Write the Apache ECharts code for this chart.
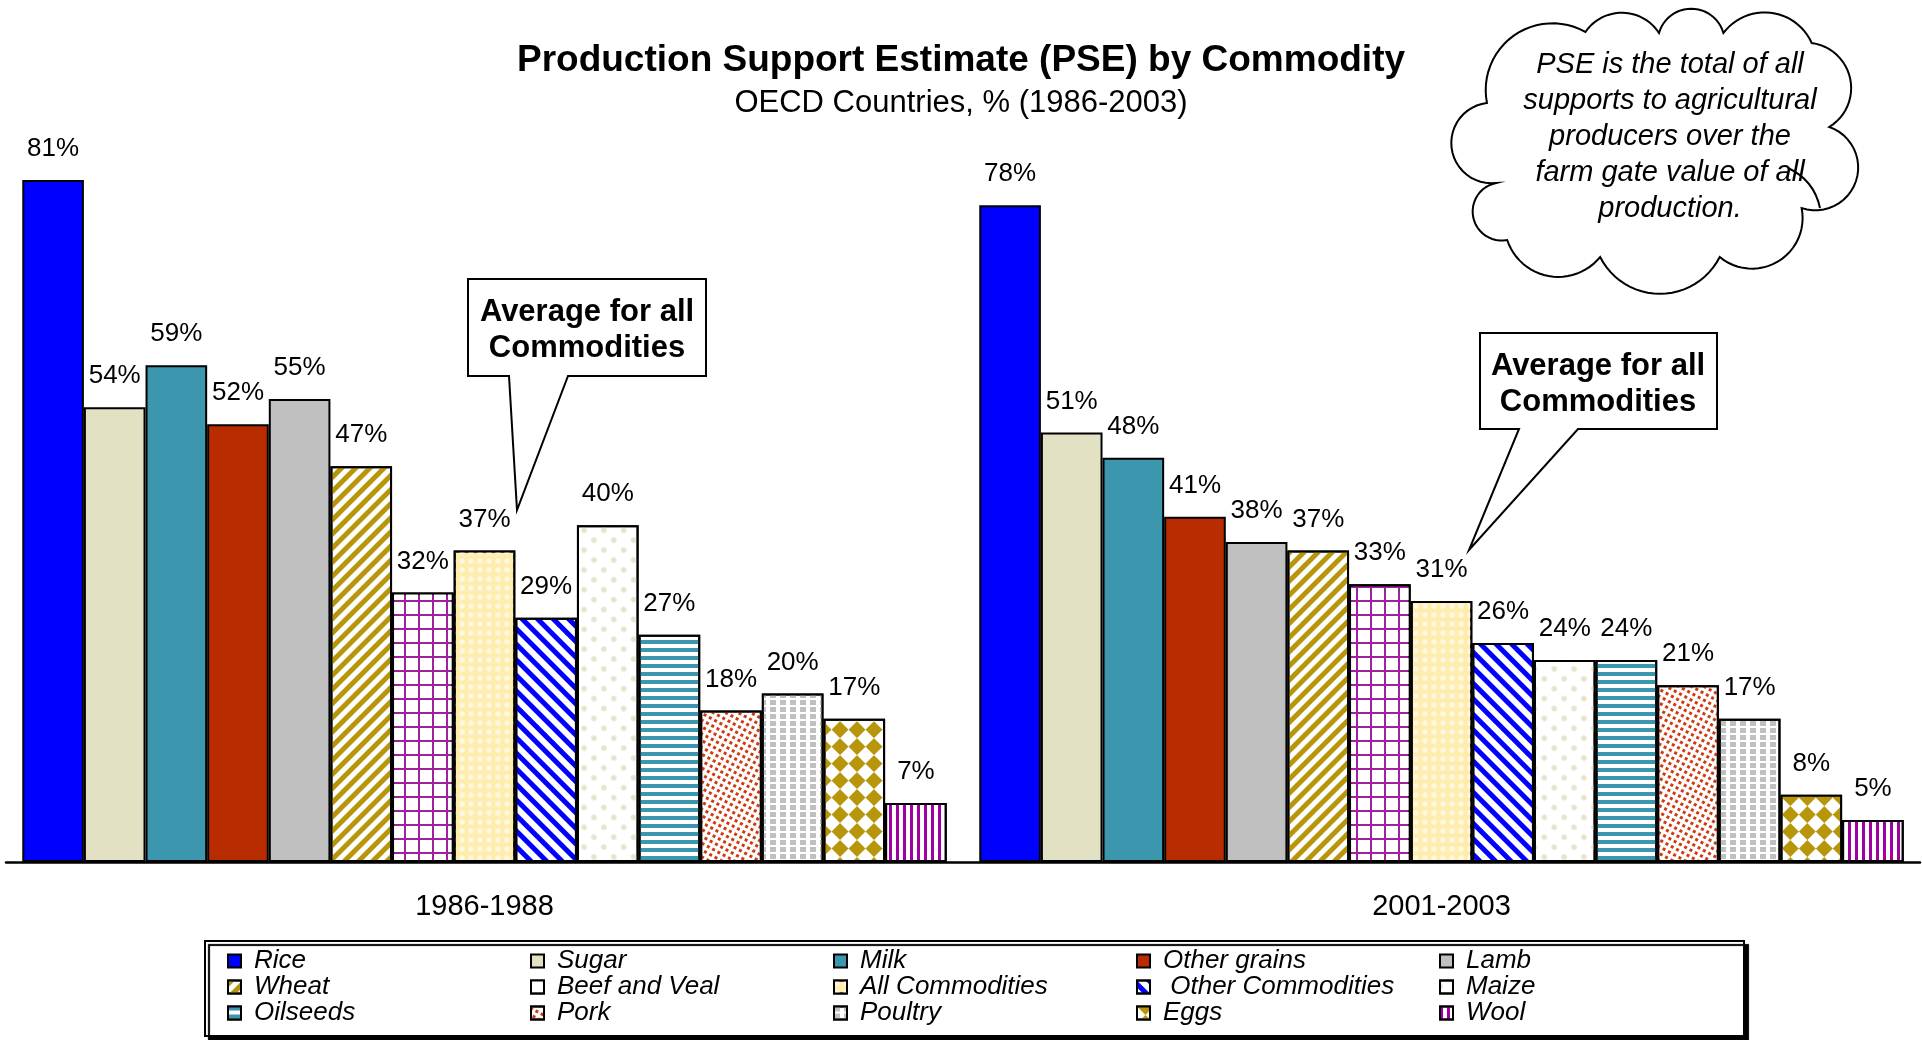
<!DOCTYPE html>
<html>
<head>
<meta charset="utf-8">
<title>PSE by Commodity</title>
<script src="https://cdn.jsdelivr.net/npm/echarts/dist/echarts.min.js"></script>
<style>
  html, body { margin: 0; padding: 0; background: #fff; }
  #chart { width: 1922px; height: 1040px; }
</style>
</head>
<body>
<div id="chart"></div>
<script>
// data
const periods = ['1986-1988', '2001-2003'];
const commodities = ['Rice', 'Sugar', 'Milk', 'Other grains', 'Lamb',
  'Wheat', 'Beef and Veal', 'All Commodities', 'Other Commodities', 'Maize',
  'Oilseeds', 'Pork', 'Poultry', 'Eggs', 'Wool'];
const pse8688 = [81, 54, 59, 52, 55, 47, 32, 37, 29, 40, 27, 18, 20, 17, 7];
const pse0103 = [78, 51, 48, 41, 38, 37, 33, 31, 26, 24, 24, 21, 17, 8, 5];

const FONT = '"Liberation Sans", Arial, sans-serif';

// fill + pattern for each commodity, same order as above
const looks = [
  { color: '#0000FF' },
  { color: '#E3E1C3' },
  { color: '#3C96AE' },
  { color: '#B82C00' },
  { color: '#C0C0C0' },
  { color: '#fff', decal: { symbol: 'rect', color: '#B8960C', dashArrayX: [1, 0], dashArrayY: [5, 5], rotation: -Math.PI / 4 } },
  { color: '#A0209E', decal: { symbol: 'rect', color: '#fff', dashArrayX: [12, 2], dashArrayY: [12, 2] } },
  { color: '#FFEDB0', decal: { symbol: 'circle', color: '#FFF8DE', dashArrayX: [6, 3], dashArrayY: [6, 3], symbolSize: 0.9 } },
  { color: '#fff', decal: { symbol: 'rect', color: '#0000FF', dashArrayX: [1, 0], dashArrayY: [5, 6], rotation: Math.PI / 4 } },
  { color: '#fff', decal: { symbol: 'circle', color: '#E6E4CC', dashArrayX: [8, 6], dashArrayY: [8, 6], symbolSize: 0.7, rotation: Math.PI / 4 } },
  { color: '#fff', decal: { symbol: 'rect', color: '#3C96AE', dashArrayX: [1, 0], dashArrayY: [4, 4] } },
  { color: '#fff', decal: { symbol: 'rect', color: '#D0380E', dashArrayX: [3, 2.5], dashArrayY: [3, 2.5], rotation: 0.5 } },
  { color: '#fff', decal: { symbol: 'rect', color: '#C0C0C0', dashArrayX: [6, 4], dashArrayY: [5, 2] } },
  { color: '#fff', decal: { symbol: 'rect', color: '#B8960C', dashArrayX: [[12, 12], [0, 12, 12, 0]], dashArrayY: [12, 0], rotation: Math.PI / 4 } },
  { color: '#fff', decal: { symbol: 'rect', color: '#A000A0', dashArrayX: [3, 4], dashArrayY: [1, 0] } }
];

const series = commodities.map((name, i) => {
  const itemStyle = { color: looks[i].color, borderColor: '#000', borderWidth: 2 };
  if (looks[i].decal) itemStyle.decal = looks[i].decal;
  return {
    name: name,
    type: 'bar',
    barGap: '0%',
    barCategoryGap: '3.4%',
    data: [pse8688[i], pse0103[i]],
    itemStyle: itemStyle,
    label: {
      show: true, position: 'top', distance: 18, formatter: '{c}%',
      fontSize: 26, color: '#000', fontFamily: FONT
    },
    emphasis: { disabled: true }
  };
});

// cloud outline: lobes are arcs between these points, sampled into a polygon
const cloudPts = [[1500, 183], [1490, 103], [1597, 32], [1677, 33], [1747, 33], [1843, 43],
  [1862, 127], [1832, 208], [1743, 257], [1613, 257], [1512, 240]]
  .map(p => [1452 + (p[0] - 1452) * 0.92, p[1]]);
const cloudK = [0.5, 0.55, 0.6, 0.52, 0.58, 0.53, 0.5, 0.53, 0.56, 0.57, 0.5];

function lobe(p, q, k) {
  const dx = q[0] - p[0], dy = q[1] - p[1];
  const c = Math.hypot(dx, dy);
  const r = c * k;
  const tx = dx / c, ty = dy / c;
  const nx = ty, ny = -tx; // outward for clockwise travel on screen
  const d = Math.sqrt(Math.max(r * r - c * c / 4, 0));
  const cx = (p[0] + q[0]) / 2 - nx * d, cy = (p[1] + q[1]) / 2 - ny * d;
  const a0 = Math.atan2(p[1] - cy, p[0] - cx);
  const a1 = Math.atan2(q[1] - cy, q[0] - cx);
  let delta = a1 - a0;
  while (delta > Math.PI) delta -= 2 * Math.PI;
  while (delta <= -Math.PI) delta += 2 * Math.PI;
  const am = a0 + delta / 2;
  if (Math.cos(am) * nx + Math.sin(am) * ny < 0) delta -= Math.sign(delta) * 2 * Math.PI;
  const pts = [];
  for (let s = 0; s < 24; s++) {
    const a = a0 + delta * s / 24;
    pts.push([cx + r * Math.cos(a), cy + r * Math.sin(a)]);
  }
  return pts;
}

let cloudOutline = [];
cloudPts.forEach((p, i) => {
  cloudOutline = cloudOutline.concat(lobe(p, cloudPts[(i + 1) % cloudPts.length], cloudK[i]));
});

function callout(points, cx, cy) {
  return [
    {
      type: 'polygon', z: 100,
      shape: { points: points },
      style: { fill: '#fff', stroke: '#000', lineWidth: 2 }
    },
    {
      type: 'text', z: 101, x: cx, y: cy,
      style: {
        text: 'Average for all\nCommodities', fontFamily: FONT, fontSize: 31, fontWeight: 'bold',
        lineHeight: 36, fill: '#000', align: 'center', verticalAlign: 'middle'
      }
    }
  ];
}

const chart = echarts.init(document.getElementById('chart'));
chart.setOption({
  animation: false,
  backgroundColor: '#fff',
  title: {
    left: 'center', top: 35, padding: 5, itemGap: 4,
    text: 'Production Support Estimate (PSE) by Commodity',
    subtext: 'OECD Countries, % (1986-2003)',
    textStyle: { fontFamily: FONT, fontSize: 37, fontWeight: 'bold', color: '#000', lineHeight: 42 },
    subtextStyle: { fontFamily: FONT, fontSize: 31, color: '#000', lineHeight: 34 }
  },
  legend: {
    left: 205, top: 941, width: 1520,
    padding: [7, 2, 10, 22],
    itemWidth: 13, itemHeight: 13, itemGap: 0,
    icon: 'rect',
    selectedMode: false,
    backgroundColor: '#fff',
    borderColor: '#000', borderWidth: 2,
    shadowColor: '#000', shadowOffsetX: 4, shadowOffsetY: 4, shadowBlur: 1,
    formatter: n => (n === 'Other Commodities' ? ' ' + n : n),
    textStyle: {
      fontFamily: FONT, fontSize: 26, fontStyle: 'italic', color: '#000',
      width: 276, lineHeight: 26, padding: [0, 0, 0, 8]
    },
    data: commodities
  },
  grid: { left: 6, right: 2, top: 20, bottom: 178, outerBoundsMode: 'none' },
  xAxis: {
    type: 'category',
    data: periods,
    axisLine: { lineStyle: { color: '#000', width: 2.5 } },
    axisTick: { show: false },
    axisLabel: { fontFamily: FONT, fontSize: 29, color: '#000', margin: 30 }
  },
  yAxis: {
    type: 'value', min: 0, max: 100, show: false,
    splitLine: { show: false }
  },
  series: series,
  graphic: [
    {
      type: 'polygon', z: 100,
      shape: { points: cloudOutline },
      style: { fill: '#fff', stroke: '#000', lineWidth: 2 }
    },
    {
      type: 'bezierCurve', z: 101,
      shape: { x1: 1788, y1: 168, x2: 1820, y2: 208, cpx1: 1814, cpy1: 180 },
      style: { fill: null, stroke: '#000', lineWidth: 2 }
    },
    {
      type: 'text', z: 102, x: 1670, y: 137,
      style: {
        text: 'PSE is the total of all\nsupports to agricultural\nproducers over the\nfarm gate value of all\nproduction.',
        fontFamily: FONT, fontSize: 29, fontStyle: 'italic', lineHeight: 36,
        fill: '#000', align: 'center', verticalAlign: 'middle'
      }
    }
  ].concat(
    callout([[468, 279], [706, 279], [706, 376], [568, 376], [517, 510], [509, 376], [468, 376]], 587, 330),
    callout([[1480, 333], [1717, 333], [1717, 429], [1578, 429], [1469, 550], [1519, 429], [1480, 429]], 1598, 384)
  )
});
</script>
</body>
</html>
